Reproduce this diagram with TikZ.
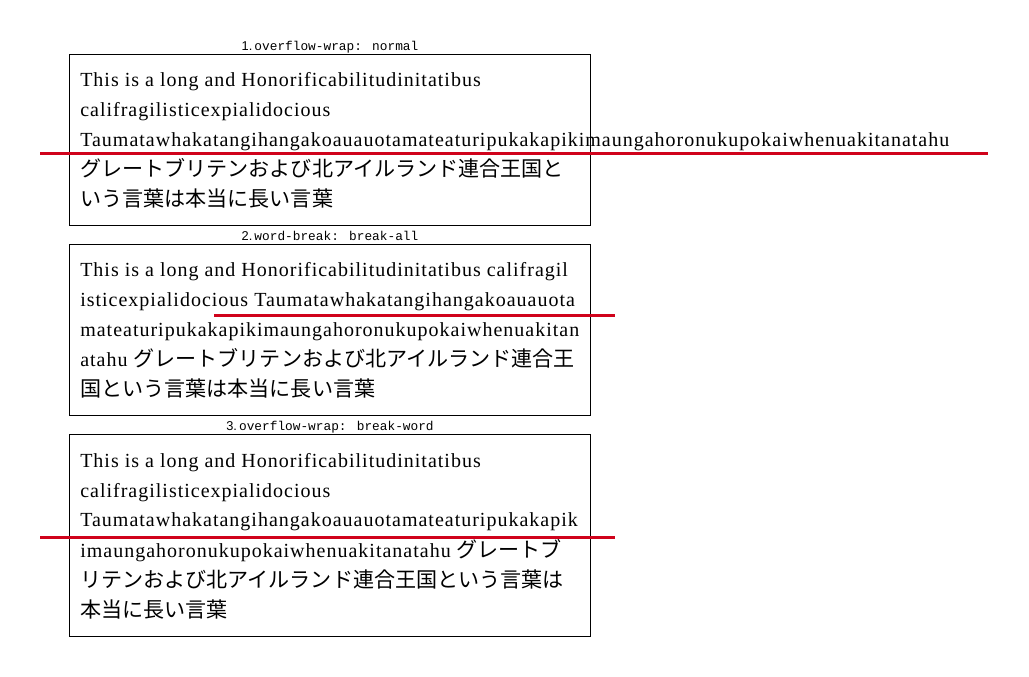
\documentclass[tikz,border=0pt]{standalone}
\usepackage{fontspec}
\setmainfont{Liberation Serif}[LetterSpace=5]
\newfontfamily\jpfont{Noto Sans CJK JP}
\newfontfamily\monofont{Liberation Mono}
\newfontfamily\numfont{Liberation Sans}
\definecolor{markred}{RGB}{208,2,27}

\newcommand{\jp}[1]{{\jpfont\fontsize{15.8pt}{15.8pt}\selectfont #1}}

\tikzset{
  txtline/.style={anchor=base west, inner sep=0pt, font=\fontsize{15}{18}\selectfont},
  boxtitle/.style={anchor=base, inner sep=0pt, font=\monofont\fontsize{9.6}{11}\selectfont},
  boxframe/.style={draw=black, line width=0.75pt},
  cutline/.style={draw=markred, line width=2.25pt},
}

\begin{document}
\begin{tikzpicture}[x=0.75pt,y=-0.75pt]

\useasboundingbox (0,0) rectangle (1029,677);

\def\l{80}  % text left
\def\m{330} % box centre

% --- Box 1: overflow-wrap normal ---
\draw[boxframe] (69,55) rectangle (590,226);
\node[boxtitle] (t1) at (\m,51) {{\numfont 1.}\,overflow-wrap: normal};
\node[txtline] (a1) at (\l,87) {This is a long and Honorificabilitudinitatibus};
\node[txtline] (a2) at (\l,117) {califragilisticexpialidocious};
\node[txtline] (a3) at (\l,147) {Taumatawhakatangihangakoauauotamateaturipukakapikimaungahoronukupokaiwhenuakitanatahu};
\node[txtline] (a4) at (\l,177) {\jp{グレートブリテンおよび北アイルランド連合王国と}};
\node[txtline] (a5) at (\l,207) {\jp{いう言葉は本当に長い言葉}};
\draw[cutline] (40,154) -- (988,154);

% --- Box 2: word-break break-all ---
\draw[boxframe] (69,245) rectangle (590,416);
\node[boxtitle] (t2) at (\m,241) {{\numfont 2.}\,word-break: break-all};
\node[txtline] (b1) at (\l,277) {This is a long and Honorificabilitudinitatibus califragil};
\node[txtline] (b2) at (\l,307) {isticexpialidocious Taumatawhakatangihangakoauauota};
\node[txtline] (b3) at (\l,337) {mateaturipukakapikimaungahoronukupokaiwhenuakitan};
\node[txtline] (b4) at (\l,367) {atahu \jp{グレートブリテンおよび北アイルランド連合王}};
\node[txtline] (b5) at (\l,397) {\jp{国という言葉は本当に長い言葉}};
\draw[cutline] (214,316) -- (615,316);

% --- Box 3: overflow-wrap break-word ---
\draw[boxframe] (69,435) rectangle (590,636);
\node[boxtitle] (t3) at (\m,431) {{\numfont 3.}\,overflow-wrap: break-word};
\node[txtline] (c1) at (\l,467) {This is a long and Honorificabilitudinitatibus};
\node[txtline] (c2) at (\l,497) {califragilisticexpialidocious};
\node[txtline] (c3) at (\l,527) {Taumatawhakatangihangakoauauotamateaturipukakapik};
\node[txtline] (c4) at (\l,557) {imaungahoronukupokaiwhenuakitanatahu \jp{グレートブ}};
\node[txtline] (c5) at (\l,587) {\jp{リテンおよび北アイルランド連合王国という言葉は}};
\node[txtline] (c6) at (\l,617) {\jp{本当に長い言葉}};
\draw[cutline] (40,537) -- (615,537);

\end{tikzpicture}
\end{document}
